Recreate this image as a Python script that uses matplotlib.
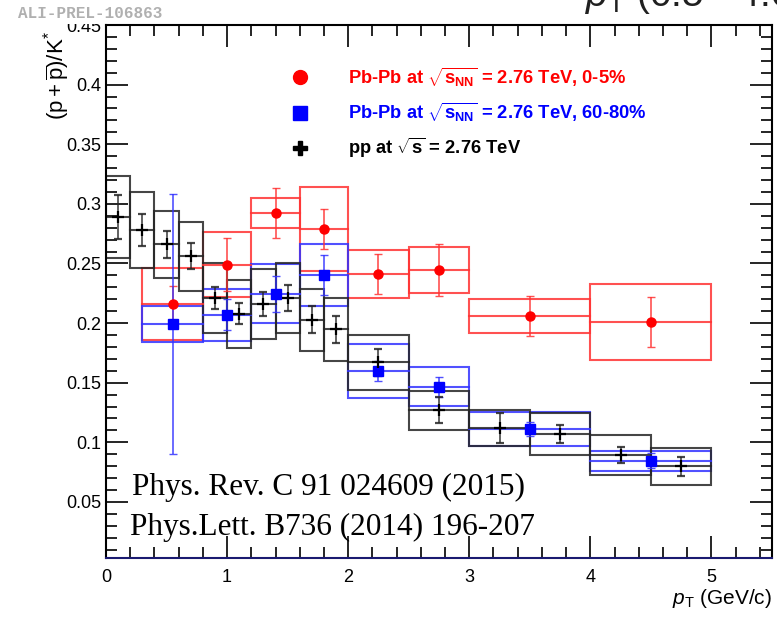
import numpy as np
import matplotlib
matplotlib.use('Agg')
import matplotlib.pyplot as plt
from matplotlib.patches import Rectangle
from matplotlib.ticker import MultipleLocator

plt.rcParams['font.family'] = ['Liberation Sans', 'DejaVu Sans']
plt.rcParams['mathtext.fontset'] = 'custom'
plt.rcParams['mathtext.rm'] = 'Liberation Sans'
plt.rcParams['mathtext.it'] = 'Liberation Sans:italic'
plt.rcParams['mathtext.bf'] = 'Liberation Sans:bold'

# Pb-Pb 0-5%
cen_x = [0.55, 1.0, 1.4, 1.8, 2.25, 2.75, 3.5, 4.5]
cen_lo = [0.3, 0.8, 1.2, 1.6, 2.0, 2.5, 3.0, 4.0]
cen_hi = [0.8, 1.2, 1.6, 2.0, 2.5, 3.0, 4.0, 5.0]
cen_y = [0.216, 0.249, 0.2926, 0.279, 0.241, 0.2445, 0.206, 0.2007]
cen_stat = [0.015, 0.022, 0.021, 0.017, 0.017, 0.022, 0.017, 0.021]
cen_sys = [0.030, 0.027, 0.0125, 0.035, 0.020, 0.019, 0.0145, 0.032]

# Pb-Pb 60-80%
per_x = cen_x
per_lo = cen_lo
per_hi = cen_hi
per_y = [0.199, 0.207, 0.2247, 0.2404, 0.1598, 0.1467, 0.1112, 0.0846]
per_stat = [0.109, 0.013, 0.015, 0.017, 0.008, 0.0085, 0.0058, 0.0062]
per_sys = [0.015, 0.022, 0.025, 0.026, 0.0225, 0.0165, 0.014, 0.0085]

# pp
pp_x = [0.1, 0.3, 0.5, 0.7, 0.9, 1.1, 1.3, 1.5, 1.7, 1.9, 2.25, 2.75, 3.25, 3.75, 4.25, 4.75]
pp_lo = [0.0, 0.2, 0.4, 0.6, 0.8, 1.0, 1.2, 1.4, 1.6, 1.8, 2.0, 2.5, 3.0, 3.5, 4.0, 4.5]
pp_hi = [0.2, 0.4, 0.6, 0.8, 1.0, 1.2, 1.4, 1.6, 1.8, 2.0, 2.5, 3.0, 3.5, 4.0, 4.5, 5.0]
pp_y = [0.289, 0.278, 0.266, 0.256, 0.221, 0.208, 0.216, 0.221, 0.203, 0.1947,
        0.167, 0.127, 0.112, 0.107, 0.089, 0.080]
pp_stat = [0.0185, 0.0133, 0.011, 0.011, 0.0094, 0.009, 0.0098, 0.011, 0.011, 0.011,
           0.011, 0.011, 0.0124, 0.0073, 0.0067, 0.008]
pp_sys = [0.0345, 0.0317, 0.028, 0.029, 0.0296, 0.0285, 0.029, 0.029, 0.026, 0.0265,
          0.023, 0.0163, 0.015, 0.018, 0.0168, 0.0156]


def draw_set(ax, xs, lo, hi, ys, stat, sys, color, box_color, marker, ms, mew=1):
    # systematic boxes + bin line, then points with stat errors
    for x0, x1, y, s in zip(lo, hi, ys, sys):
        ax.add_patch(Rectangle((x0, y - s), x1 - x0, 2 * s, fill=False,
                               edgecolor=box_color, lw=1.5))
        ax.plot([x0, x1], [y, y], color=box_color, lw=1.5)
    ax.errorbar(xs, ys, yerr=stat, fmt=marker, color=color, ecolor=box_color,
                ms=ms, mew=mew, elinewidth=1.2, capsize=3, capthick=1.2)


fig = plt.figure(figsize=(7.77, 6.21), dpi=100)
ax = fig.add_axes([106 / 777, 63 / 621, 666 / 777, 533 / 621])

draw_set(ax, cen_x, cen_lo, cen_hi, cen_y, cen_stat, cen_sys,
         '#ff0000', (1, 0.2, 0.2, 0.85), 'o', 6.5)
draw_set(ax, per_x, per_lo, per_hi, per_y, per_stat, per_sys,
         '#0000ff', (0.2, 0.2, 1, 0.85), 's', 6.5)
draw_set(ax, pp_x, pp_lo, pp_hi, pp_y, pp_stat, pp_sys,
         'black', (0.15, 0.15, 0.15, 0.85), '+', 9, mew=1.6)

ax.set_xlim(0, 5.5)
ax.set_ylim(0.003, 0.45)
ax.xaxis.set_major_locator(MultipleLocator(1))
ax.xaxis.set_minor_locator(MultipleLocator(0.2))
ax.yaxis.set_major_locator(MultipleLocator(0.05))
ax.yaxis.set_minor_locator(MultipleLocator(0.01))
ax.tick_params(which='both', direction='in', top=True, right=True, labelsize=13)
ax.tick_params(which='major', length=16, width=1.2)
ax.tick_params(which='minor', length=8, width=1.2)
ax.tick_params(axis='x', pad=8)
ax.set_yticks([0.05, 0.1, 0.15, 0.2, 0.25, 0.3, 0.35, 0.4, 0.45])
ax.set_yticklabels(['0.05', '0.1', '0.15', '0.2', '0.25', '0.3', '0.35', '0.4', '0.45'])
for sp in ax.spines.values():
    sp.set_linewidth(1.5)
ax.spines['bottom'].set_color('#1a1a70')

# axis titles
fig.text(57 / 777, 1 - 31 / 621, r'$(\mathrm{p}+\overline{\mathrm{p}})/\mathrm{K}^{*}$',
         rotation=90, ha='center', va='top', fontsize=16)
fig.text(772 / 777, 1 - 599 / 621, r'$p_{\mathrm{T}}$ (GeV/c)', ha='right',
         va='center', fontsize=15)

# legend
leg_rows = [
    ('#ff0000', 'o', r'Pb-Pb at $\mathbf{\sqrt{s_{NN}}}$ = 2.76 TeV, 0-5%'),
    ('#0000ff', 's', r'Pb-Pb at $\mathbf{\sqrt{s_{NN}}}$ = 2.76 TeV, 60-80%'),
    ('black', 'P', r'pp at $\mathbf{\sqrt{s}}$ = 2.76 TeV'),
]
for i, (c, m, label) in enumerate(leg_rows):
    yy = 1 - (77 + 35.5 * i) / 621
    fig.lines.append(plt.Line2D([300 / 777], [yy], marker=m, color=c, ms=10,
                                transform=fig.transFigure, ls='none'))
    fig.text(348 / 777, yy, label, color=c, fontsize=13.2, fontweight='bold',
             ha='left', va='center')

fig.text(132 / 777, 1 - 487 / 621, 'Phys. Rev. C 91 024609 (2015)',
         family='Liberation Serif', fontsize=22.5, ha='left', va='center')
fig.text(130 / 777, 1 - 527 / 621, 'Phys.Lett. B736 (2014) 196-207',
         family='Liberation Serif', fontsize=22.5, ha='left', va='center')

# preliminary label pasted on top, hiding the upper half of the 0.45 label
fig.patches.append(Rectangle((0, 1 - 24 / 621), 104 / 777, 24 / 621,
                             transform=fig.transFigure, facecolor='white',
                             edgecolor='none', zorder=5))
fig.text(18 / 777, 1 - 14 / 621, 'ALI-PREL-106863', family='Liberation Mono',
         fontweight='bold', fontsize=11.5, color='#b0b0b0', ha='left', va='center',
         zorder=6)
fig.text(585 / 777, 1 - 6 / 621, r'$p_{\mathrm{T}}$ (0.5 - 4.0)', fontsize=28,
         color='#202020', ha='left', va='baseline')

fig.savefig('out.png', dpi=100)
